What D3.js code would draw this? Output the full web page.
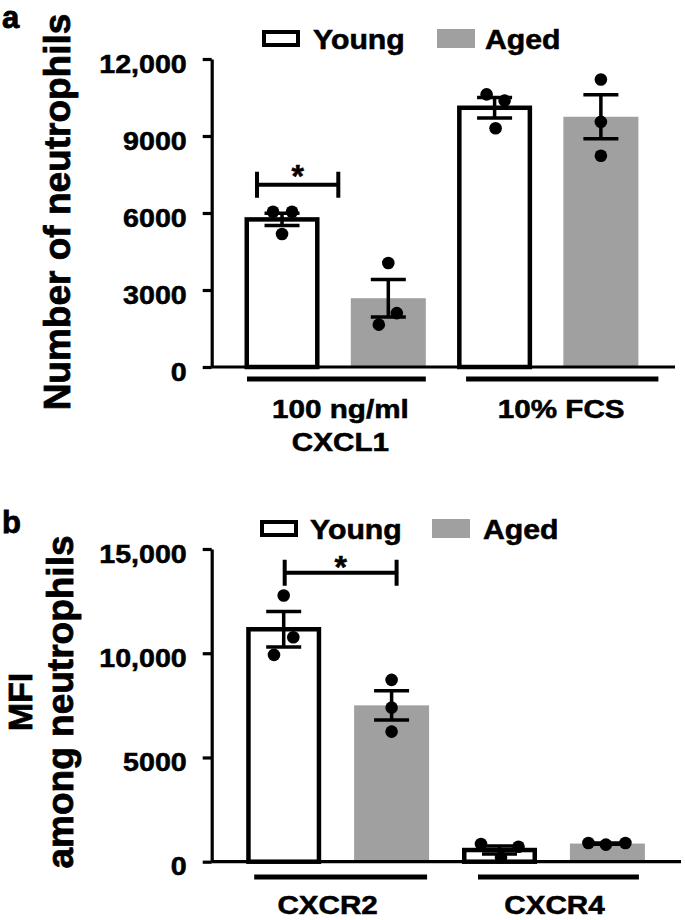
<!DOCTYPE html>
<html>
<head>
<meta charset="utf-8">
<script src="https://cdn.jsdelivr.net/npm/d3@7"></script>
<style>
  body { margin: 0; background: #fff; }
  svg { display: block; }
  text { font-family: "Liberation Sans", Arial, Helvetica, sans-serif; font-weight: bold;
         fill: #000; stroke: #000; stroke-width: 0.55px; }
  text.big { stroke-width: 0.8px; }
</style>
</head>
<body>
<svg id="chart" width="685" height="920"></svg>
<script>
// ---- data ----
const conditions = ['Young', 'Aged'];

// panel a: number of neutrophils
const groupsA = [['100 ng/ml', 'CXCL1'], ['10% FCS']];
const meansA = [[5750, 2680], [10100, 9750]];
const semA = [[240, 730], [400, 860]];
const pointsA = [
  [[6050, 6050, 5180], [4050, 2100, 1650]],
  [[10620, 10380, 9300], [11200, 9550, 8230]]
];
const ticksA = [0, 3000, 6000, 9000, 12000];
const tickLabelsA = ['0', '3000', '6000', '9000', '12,000'];

// panel b: MFI among neutrophils
const groupsB = [['CXCR2'], ['CXCR4']];
const meansB = [[11150, 7500], [560, 870]];
const semB = [[850, 700], [195, 27]];
const pointsB = [
  [[12770, 10770, 9920], [8720, 7390, 6240]],
  [[850, 200, 720], [900, 820, 900]]
];
const ticksB = [0, 5000, 10000, 15000];
const tickLabelsB = ['0', '5000', '10,000', '15,000'];

// ---- layout ----
const GRAY = '#a0a0a0';
const SX = 1.1;          // glyphs in the figure are slightly wide
const DOT_R = 6.3;
const CAP = 17.5;

// horizontal offsets of the scatter dots (px), same nesting as the points
const jitterA = [[[-9, 10, 0], [0, 8.5, -9.5]], [[-8, 10, 1], [0, 0, 0]]];
const jitterB = [[[0, 9.6, -9.7], [0, 0, 0]], [[-18.5, 1.5, 19], [-19, -1.5, 18]]];

const svg = d3.select('#chart');

function hText(g, x, y, str, size, anchor, sx) {
  return g.append('text')
    .attr('transform', `translate(${x},${y}) scale(${sx || SX},1)`)
    .attr('text-anchor', anchor || 'start')
    .attr('font-size', size)
    .text(str);
}

function drawPanel(P) {
  const g = svg.append('g');

  const y = d3.scaleLinear().domain([0, d3.max(P.ticks)]).range(P.yRange);
  const keys = [];
  P.groups.forEach((gr, gi) => conditions.forEach(c => keys.push(gi + '|' + c)));
  const x = d3.scaleBand().domain(keys).range(P.xRange)
    .paddingInner(P.pad).paddingOuter(0);
  const bw = x.bandwidth();

  // panel letter
  g.append('text').attr('class', 'big').attr('x', 2).attr('y', P.letterY)
    .attr('font-size', 31).text(P.letter);

  // legend
  const lg = g.append('g');
  lg.append('rect').attr('x', P.legend.young[0] + 2).attr('y', P.legend.y + 2)
    .attr('width', 34).attr('height', P.legend.h - 4)
    .attr('fill', '#fff').attr('stroke', '#000').attr('stroke-width', 4);
  hText(lg, P.legend.young[1], P.legend.textY, 'Young', 27, 'start', 1.12);
  lg.append('rect').attr('x', P.legend.aged[0]).attr('y', P.legend.y - 1)
    .attr('width', 38).attr('height', P.legend.h + 2).attr('fill', GRAY);
  hText(lg, P.legend.aged[1], P.legend.textY, 'Aged', 27, 'start', 1.12);

  // bars
  const rows = [];
  P.groups.forEach((gr, gi) => conditions.forEach((c, ci) => {
    rows.push({ key: gi + '|' + c, cond: c, mean: P.means[gi][ci], sem: P.sem[gi][ci],
      pts: P.points[gi][ci], jit: P.jitter[gi][ci] });
  }));

  g.selectAll('rect.bar').data(rows).enter().append('rect')
    .attr('class', 'bar')
    .attr('x', d => d.cond === 'Young' ? x(d.key) + 2.25 : x(d.key))
    .attr('width', d => d.cond === 'Young' ? bw - 4.5 : bw)
    .attr('y', d => y(d.mean))
    .attr('height', d => y(0) - y(d.mean))
    .attr('fill', d => d.cond === 'Young' ? '#fff' : GRAY)
    .attr('stroke', d => d.cond === 'Young' ? '#000' : 'none')
    .attr('stroke-width', 4.5);

  // dots
  rows.forEach(r => {
    const cx = x(r.key) + bw / 2;
    g.selectAll(null).data(r.pts).enter().append('circle')
      .attr('cx', (d, i) => cx + r.jit[i])
      .attr('cy', d => y(d))
      .attr('r', DOT_R)
      .attr('fill', '#000');
  });

  // error bars (mean ± SEM)
  rows.forEach(r => {
    const cx = x(r.key) + bw / 2;
    const lo = y(r.mean - r.sem), hi = y(r.mean + r.sem);
    g.append('path')
      .attr('d', `M${cx},${lo}V${hi}M${cx - CAP},${hi}H${cx + CAP}M${cx - CAP},${lo}H${cx + CAP}`)
      .attr('stroke', '#000').attr('stroke-width', 3.5).attr('fill', 'none');
  });

  // y axis
  const axis = d3.axisLeft(y).tickValues(P.ticks)
    .tickFormat((d, i) => P.tickLabels[i]).tickSize(9).tickSizeOuter(0);
  const ag = g.append('g').attr('transform', `translate(${P.axisX},0)`).call(axis);
  ag.attr('font-size', null).attr('font-family', null);
  ag.select('.domain').attr('stroke-width', 3.2);
  ag.selectAll('.tick line').attr('stroke-width', 3.2);
  ag.selectAll('.tick text')
    .attr('x', null).attr('dy', '0.5em').attr('font-size', 26).attr('fill', '#000')
    .attr('transform', `translate(-25,0) scale(${SX},1)`);

  // x axis baseline
  g.append('line').attr('x1', P.axisX).attr('x2', P.xEnd)
    .attr('y1', y(0)).attr('y2', y(0))
    .attr('stroke', '#000').attr('stroke-width', 3.2);

  // group underlines and labels
  P.groups.forEach((gr, gi) => {
    const x1 = x(gi + '|Young') + P.lineOff[gi][0];
    const x2 = x(gi + '|Aged') + bw + P.lineOff[gi][1];
    g.append('line').attr('x1', x1).attr('x2', x2)
      .attr('y1', P.lineY).attr('y2', P.lineY)
      .attr('stroke', '#000').attr('stroke-width', 5);
    gr.forEach((s, li) => {
      hText(g, (x1 + x2) / 2 + P.labelOff[gi], P.labelY[li], s, 26, 'middle', 1.14);
    });
  });

  // significance bracket
  const b = P.bracket;
  const bx1 = x(b.from) + bw / 2 + b.dx[0];
  const bx2 = x(b.to) + bw / 2 + b.dx[1];
  const by = y(b.level);
  g.append('path')
    .attr('d', `M${bx1},${by - 13}V${by + 13}M${bx1},${by}H${bx2}M${bx2},${by - 13}V${by + 13}`)
    .attr('stroke', '#000').attr('stroke-width', 4).attr('fill', 'none');
  g.append('text').attr('x', (bx1 + bx2) / 2).attr('y', by + b.starDy)
    .attr('text-anchor', 'middle').attr('font-size', 32).text('*');

  // y label
  P.yLabel.forEach((s, i) => {
    g.append('text').attr('class', 'big')
      .attr('transform', `translate(${P.yLabelX[i]},${P.yLabelY}) rotate(-90)`)
      .attr('text-anchor', 'middle').attr('font-size', P.yLabelSize[i]).text(s);
  });
}

drawPanel({
  letter: 'a', letterY: 28,
  groups: groupsA, means: meansA, sem: semA, points: pointsA, jitter: jitterA,
  ticks: ticksA, tickLabels: tickLabelsA,
  yRange: [367, 59], xRange: [244.5, 638.4], pad: 0.294,
  axisX: 211.7, xEnd: 675,
  lineY: 379, lineOff: [[2.5, 0], [9, 20]],
  labelY: [418, 451], labelOff: [4, -1],
  legend: { young: [262, 313], aged: [437, 485], y: 30, h: 17, textY: 49 },
  bracket: { from: '0|Young', to: '0|Aged', level: 7100, dx: [-25, -50], starDy: 2 },
  yLabel: ['Number of neutrophils'], yLabelX: [70], yLabelY: 212, yLabelSize: [37]
});

drawPanel({
  letter: 'b', letterY: 533,
  groups: groupsB, means: meansB, sem: semB, points: pointsB, jitter: jitterB,
  ticks: ticksB, tickLabels: tickLabelsB,
  yRange: [861.7, 549], xRange: [246.2, 644.9], pad: 0.305,
  axisX: 211.7, xEnd: 681,
  lineY: 877, lineOff: [[8, -2], [16, -6]],
  labelY: [913.5], labelOff: [-13, -4],
  legend: { young: [260, 310], aged: [432, 483], y: 520, h: 17, textY: 539 },
  bracket: { from: '0|Young', to: '0|Aged', level: 13860, dx: [1, 5], starDy: 5 },
  yLabel: ['MFI', 'among neutrophils'], yLabelX: [32, 73], yLabelY: 702, yLabelSize: [34, 37]
});
</script>
</body>
</html>
